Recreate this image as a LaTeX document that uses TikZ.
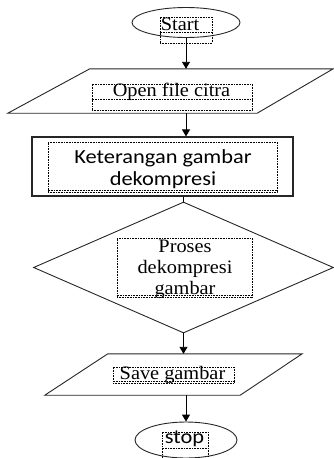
\documentclass[tikz,border=0pt]{standalone}
\usepackage{fontspec}
\setmainfont{Liberation Serif}[FakeStretch=1.07]
\newfontfamily\calfont{Carlito}[FakeStretch=1.12]
\usetikzlibrary{shapes.geometric,arrows.meta}
\tikzset{
  outline/.style={draw=black!85, line width=0.9pt, inner sep=0pt},
  tbox/.style={draw=black, line width=0.7pt, dash pattern=on 0.8pt off 0.8pt, inner sep=0pt},
  sertext/.style={font=\fontsize{19}{21}\selectfont, inner sep=0pt, align=center},
  santext/.style={font=\calfont\fontsize{20}{22}\selectfont, inner sep=0pt, align=center},
  arr/.style={draw=black, line width=0.9pt, -{Triangle[length=7pt,width=8pt]}},
  link/.style={draw=black, line width=0.9pt},
  frame/.style={draw=none, inner sep=0pt, rectangle}
}
\begin{document}
\begin{tikzpicture}[x=1pt,y=-1pt]
\useasboundingbox (0,0) rectangle (334,458);
% shapes
\node[outline, ellipse, minimum width=108pt, minimum height=30pt] (start) at (186,22.5) {};
\node[frame, minimum width=325pt, minimum height=44pt] (open) at (170.5,91) {};
\draw[outline] (open.south west) -- ([xshift=-76pt]open.south east) -- (open.north east)
      -- ([xshift=82pt]open.north west) -- cycle;
\node[outline, line width=1.2pt, rectangle, minimum width=261pt, minimum height=59pt] (ket) at (162.5,166.5) {};
\node[outline, diamond, minimum width=300pt, minimum height=131pt] (dec) at (183.5,267.5) {};
\node[frame, minimum width=257pt, minimum height=41pt] (save) at (173.5,374.5) {};
\draw[outline] (save.south west) -- ([xshift=-62pt]save.south east) -- (save.north east)
      -- ([xshift=63pt]save.north west) -- cycle;
\node[outline, ellipse, minimum width=102pt, minimum height=36pt] (stop) at (186,440) {};
% dotted text boxes
\node[tbox, minimum width=52pt, minimum height=26pt] (bstart) at (186,30) {};
\node[tbox, minimum width=160pt, minimum height=26pt] (bopen) at (172,97) {};
\node[tbox, minimum width=229pt, minimum height=50pt] (bket) at (162.5,167) {};
\node[tbox, minimum width=135pt, minimum height=59pt] (bdec) at (184.5,267.5) {};
\node[tbox, minimum width=121pt, minimum height=16pt] (bsave) at (173.5,375) {};
\node[tbox, minimum width=46pt, minimum height=30pt] (bstop) at (185,447) {};
\draw[tbox] (bstart.west |- 0,32) -- (bstart.east |- 0,32);
\draw[tbox] (bopen.west |- 0,99) -- (bopen.east |- 0,99);
\draw[tbox] (bket.west |- 0,190) -- (bket.east |- 0,190);
\draw[tbox] (bdec.west |- 0,295) -- (bdec.east |- 0,295);
\draw[tbox] (bsave.west |- 0,381) -- (bsave.east |- 0,381);
\draw[tbox] (bstop.west |- 0,448) -- (bstop.east |- 0,448);
% texts
\node[sertext, anchor=base] (tstart) at (180,30) {Start};
\node[sertext, anchor=base] (topen) at (171.5,96) {Open file citra};
\node[santext] (tket) at (163,169) {Keterangan gambar\\dekompresi};
\node[sertext] (tdec) at (185,269) {Proses\\dekompresi\\gambar};
\node[sertext, anchor=base] (tsave) at (172.5,379) {Save gambar};
\node[santext, anchor=base] (tstop) at (184.5,443) {stop};
% connectors
\draw[arr] (start.south) -- (start.south |- open.north);
\draw[arr] (open.south -| start.south) -- (ket.north -| start.south);
\draw[link] (ket.south -| dec.north) -- (dec.north);
\draw[arr] (dec.south) -- (dec.south |- save.north);
\draw[arr] (save.south -| stop.north) -- (stop.north);
\end{tikzpicture}
\end{document}
